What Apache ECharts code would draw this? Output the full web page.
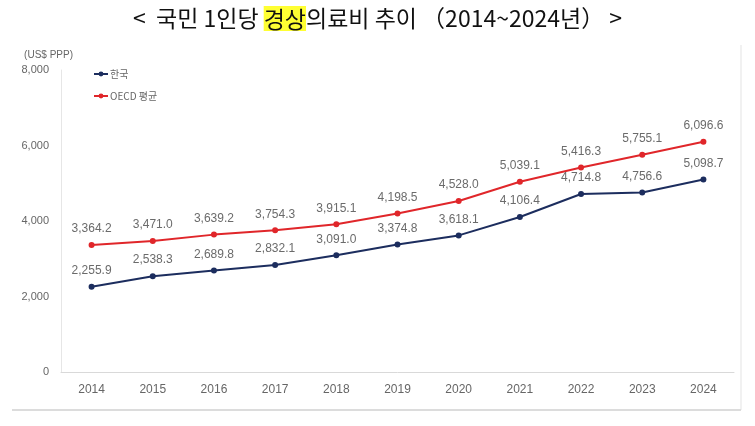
<!DOCTYPE html>
<html>
<head>
<meta charset="utf-8">
<script src="https://cdn.jsdelivr.net/npm/echarts@6/dist/echarts.min.js"></script>
<style>
  html, body { margin: 0; padding: 0; background: #fff; }
  #chart { width: 755px; height: 426px; }
</style>
</head>
<body>
<div id="chart"></div>
<script>
// 연도 (x축)
const years = ['2014', '2015', '2016', '2017', '2018', '2019', '2020', '2021', '2022', '2023', '2024']
// 한국 1인당 경상의료비 (US$ PPP)
const korea = [2255.9, 2538.3, 2689.8, 2832.1, 3091.0, 3374.8, 3618.1, 4106.4, 4714.8, 4756.6, 5098.7]
// OECD 평균
const oecd = [3364.2, 3471.0, 3639.2, 3754.3, 3915.1, 4198.5, 4528.0, 5039.1, 5416.3, 5755.1, 6096.6]

const NAVY = '#1c2d5e'
const RED = '#e0262a'
const GRAY = '#666'
const NUM_FONT = '"Liberation Sans Narrow", "Liberation Sans", "Noto Sans CJK KR", sans-serif'

const fmt = (v) => v.toLocaleString('en-US', { minimumFractionDigits: 1, maximumFractionDigits: 1 })

const chart = echarts.init(document.getElementById('chart'))

const makeSeries = (name, data, color) => ({
  name,
  type: 'line',
  data,
  symbol: 'circle',
  symbolSize: 6,
  lineStyle: { color, width: 2 },
  itemStyle: { color },
  label: {
    show: true,
    position: 'top',
    distance: 7,
    color: '#6b6b6b',
    fontSize: 12,
    fontFamily: '"Liberation Sans", sans-serif',
    formatter: (p) => fmt(p.value)
  }
})

const titleFont = { fontSize: 23, fontWeight: 'normal', color: '#111', fontFamily: '"Noto Sans CJK KR", sans-serif' }

chart.setOption({
  animation: false,
  backgroundColor: '#fff',
  title: {
    left: 'center',
    top: 1,
    text: '{a|<  국민 1인당 }{h|경상}{a|의료비 추이 （2014~2024년） >}',
    textStyle: {
      rich: {
        a: titleFont,
        h: Object.assign({}, titleFont, { backgroundColor: '#ffff33', padding: [2, 0, 0, 0] })
      }
    }
  },
  legend: {
    orient: 'vertical',
    left: 88,
    top: 64,
    itemGap: 12,
    itemWidth: 14,
    itemHeight: 6,
    textStyle: { color: GRAY, fontSize: 10, fontFamily: '"Noto Sans CJK KR", sans-serif', padding: [0, 0, 0, -3] },
    data: ['한국', 'OECD 평균']
  },
  grid: { left: 61, right: 21, top: 70, bottom: 54 },
  xAxis: {
    type: 'category',
    data: years,
    boundaryGap: true,
    axisLine: { lineStyle: { color: '#d9d9d9' } },
    axisTick: { show: false },
    axisLabel: { color: GRAY, fontSize: 12, fontFamily: NUM_FONT, margin: 12 }
  },
  yAxis: {
    type: 'value',
    name: '(US$ PPP)',
    nameGap: 10,
    nameTextStyle: { color: GRAY, fontSize: 10, fontFamily: NUM_FONT, align: 'right', padding: [0, -12, 0, 0] },
    min: 0,
    max: 8000,
    interval: 2000,
    axisLine: { show: true, lineStyle: { color: '#e6e6e6' } },
    axisTick: { show: false },
    splitLine: { show: false },
    axisLabel: { color: GRAY, fontSize: 11, fontFamily: NUM_FONT, margin: 12, formatter: (v) => v.toLocaleString('en-US') }
  },
  graphic: [
    { type: 'line', shape: { x1: 741, y1: 45, x2: 741, y2: 410 }, style: { stroke: '#e3e3e3', lineWidth: 1 } },
    { type: 'line', shape: { x1: 12, y1: 410, x2: 741, y2: 410 }, style: { stroke: '#dcdcdc', lineWidth: 2 } }
  ],
  series: [
    makeSeries('한국', korea, NAVY),
    makeSeries('OECD 평균', oecd, RED)
  ]
})
</script>
</body>
</html>
